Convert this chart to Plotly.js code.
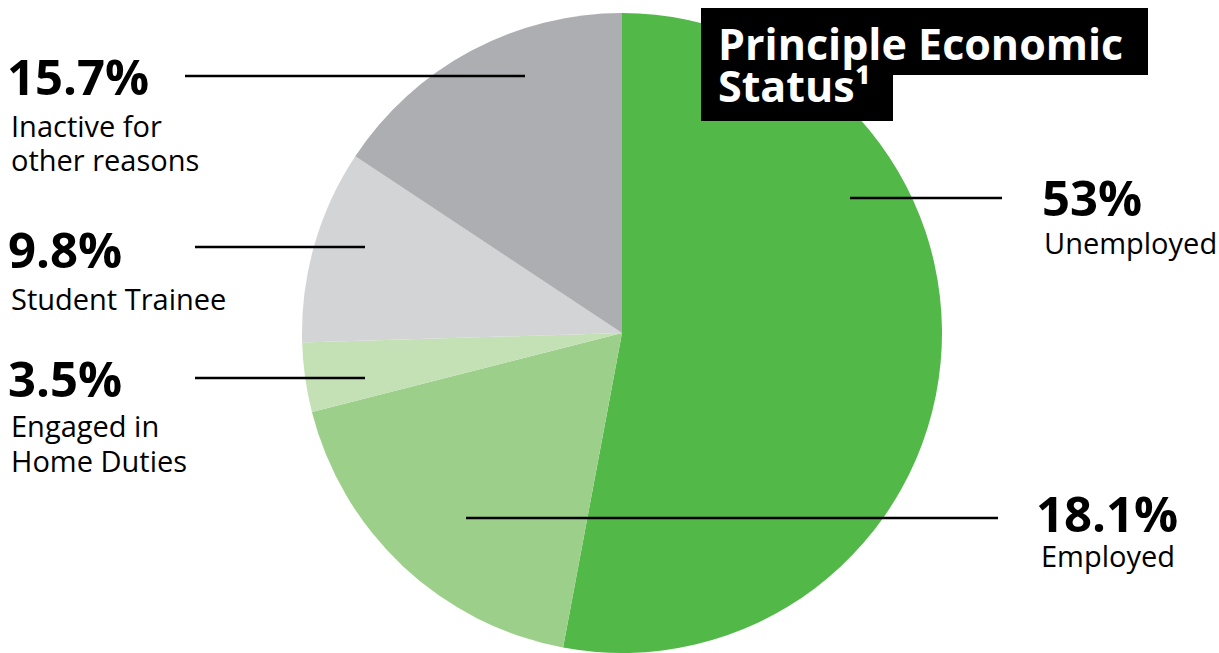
<!DOCTYPE html>
<html>
<head>
<meta charset="utf-8">
<script src="https://cdn.plot.ly/plotly-3.0.1.min.js"></script>
<style>html,body{margin:0;padding:0;background:#fff;}#chart{width:1219px;height:653px;}</style>
</head>
<body>
<div id="chart"></div>
<script>
const categories = ["Unemployed", "Employed", "Engaged in Home Duties", "Student Trainee", "Inactive for other reasons"];
const values = [53, 18.1, 3.5, 9.8, 15.7];
const valueLabels = ["53%", "18.1%", "3.5%", "9.8%", "15.7%"];
const labelLines = [["Unemployed"], ["Employed"], ["Engaged in", "Home Duties"], ["Student Trainee"], ["Inactive for", "other reasons"]];
const colors = ["#52b848", "#9ccf8a", "#c3e1b5", "#d3d4d6", "#adaeb1"];
const titleLines = ["Principle Economic", "Status¹"];

const W = 1219, H = 653;
const px = x => x / W;
const py = y => 1 - y / H;

// label placement (layout only): number top, label line tops, leader line [x0, x1, y]
const place = [
  {nx: 1041, ny: 163, lx: 1043, ly: [222], line: [850, 1002, 198]},
  {nx: 1035, ny: 479, lx: 1040, ly: [535], line: [466, 998, 518]},
  {nx: 7, ny: 344, lx: 10, ly: [405, 440], line: [195, 365, 378]},
  {nx: 7, ny: 215, lx: 10, ly: [278], line: [195, 365, 247]},
  {nx: 6, ny: 42, lx: 10, ly: [105, 139], line: [185, 525, 76]}
];

const FONT = "'Open Sans', 'Noto Sans', sans-serif";
const annotations = [];
const shapes = [];
categories.forEach((c, i) => {
  const p = place[i];
  annotations.push({xref: 'paper', yref: 'paper', x: px(p.nx), y: py(p.ny), xanchor: 'left', yanchor: 'top',
    text: '<b>' + valueLabels[i] + '</b>', showarrow: false, font: {family: FONT, size: 49, color: '#000'}, borderpad: 0});
  labelLines[i].forEach((t, j) => {
    annotations.push({xref: 'paper', yref: 'paper', x: px(p.lx), y: py(p.ly[j]), xanchor: 'left', yanchor: 'top', align: 'left',
      text: t, showarrow: false, font: {family: FONT, size: 29, color: '#000'}, borderpad: 0});
  });
  shapes.push({type: 'line', xref: 'paper', yref: 'paper', x0: px(p.line[0]), x1: px(p.line[1]), y0: py(p.line[2]), y1: py(p.line[2]),
    line: {color: '#000', width: 2.5}});
});

// title block
shapes.push({type: 'rect', xref: 'paper', yref: 'paper', x0: px(701), x1: px(1148), y0: py(75), y1: py(8), fillcolor: '#000', line: {width: 0}});
shapes.push({type: 'rect', xref: 'paper', yref: 'paper', x0: px(701), x1: px(893), y0: py(121), y1: py(74), fillcolor: '#000', line: {width: 0}});
annotations.push({xref: 'paper', yref: 'paper', x: px(717), y: py(13), xanchor: 'left', yanchor: 'top', align: 'left',
  text: '<b>' + titleLines[0] + '</b>', showarrow: false, font: {family: FONT, size: 43, color: '#fff'}, borderpad: 0});
annotations.push({xref: 'paper', yref: 'paper', x: px(717), y: py(55), xanchor: 'left', yanchor: 'top', align: 'left',
  text: '<b>' + titleLines[1] + '</b>', showarrow: false, font: {family: FONT, size: 43, color: '#fff'}, borderpad: 0});

const data = [{
  type: 'pie',
  labels: categories,
  values: values,
  sort: false,
  direction: 'clockwise',
  rotation: 0,
  textinfo: 'none',
  hoverinfo: 'label+percent',
  marker: {colors: colors, line: {width: 0}},
  domain: {x: [px(302), px(942)], y: [0, 640 / H]},
  showlegend: false
}];

const layout = {
  width: W, height: H,
  margin: {l: 0, r: 0, t: 0, b: 0},
  paper_bgcolor: '#fff',
  showlegend: false,
  shapes: shapes,
  annotations: annotations
};

Plotly.newPlot('chart', data, layout, {displayModeBar: false, staticPlot: true});
</script>
</body>
</html>
